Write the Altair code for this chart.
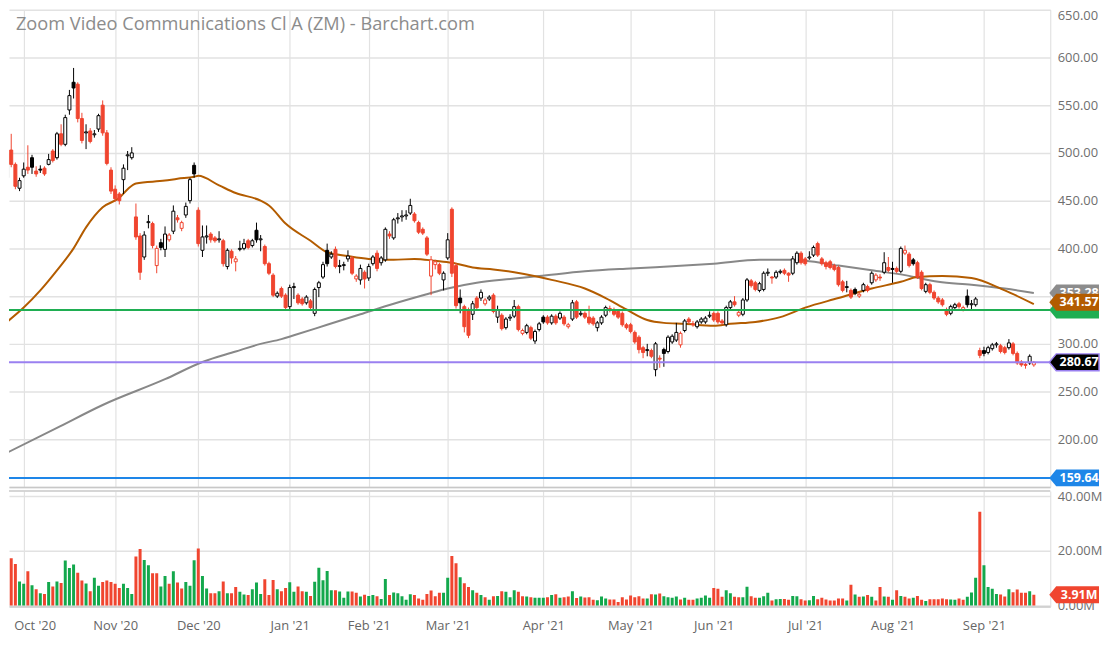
import altair as alt
import numpy as np
import pandas as pd

TITLE = "Zoom Video Communications Cl A (ZM) - Barchart.com"
FIRST_DAY = "2020-09-25"
LAST_DAY = "2021-09-20"
HOLIDAYS = ["2020-11-26", "2020-12-25", "2021-01-01", "2021-01-18", "2021-02-15",
            "2021-04-02", "2021-05-31", "2021-07-05", "2021-09-06"]

OPEN = [474, 503, 488, 463, 476, 485, 495, 481, 483, 484,
        488, 502, 495, 520, 509, 545, 574, 572, 536, 521,
        523, 519, 525, 550, 521, 482, 462, 457, 472, 497,
        495, 433, 413, 391, 427, 426, 382, 406, 399, 409,
        418, 432, 421, 435, 450, 487, 440, 398, 412, 415,
        411, 409, 408, 381, 397, 386, 399, 400, 408, 403,
        419, 409, 402, 384, 372, 350, 358, 351, 339, 359,
        351, 347, 343, 345, 332, 359, 370, 398, 391, 399,
        381, 382, 389, 390, 368, 367, 375, 369, 384, 395,
        385, 388, 415, 411, 431, 433, 434, 437, 436, 427,
        420, 411, 371, 383, 383, 367, 390, 441, 382, 348,
        339, 336, 331, 348, 348, 342, 347, 351, 328, 330,
        317, 327, 329, 339, 311, 312, 317, 303, 315, 328,
        328, 322, 329, 327, 328, 318, 326, 344, 331, 332,
        328, 327, 317, 322, 330, 337, 336, 334, 332, 320,
        320, 312, 307, 296, 293, 293, 273, 285, 294, 292,
        302, 304, 299, 314, 326, 321, 318, 323, 323, 329,
        332, 332, 324, 320, 338, 344, 330, 331, 346, 366,
        364, 356, 357, 374, 370, 370, 375, 377, 374, 374,
        385, 395, 389, 390, 393, 405, 389, 385, 386, 382,
        380, 365, 359, 356, 357, 350, 356, 360, 364, 367,
        370, 375, 380, 379, 379, 376, 395, 394, 388, 385,
        375, 355, 362, 354, 348, 346, 336, 332, 338, 342,
        336, 350, 341, 341, 293, 293, 291, 295, 299, 298,
        296, 296, 300, 290, 281, 278.5, 280, 278]
HIGH = [502, 520, 490, 474, 490, 508, 498, 486, 487, 486,
        499, 504, 522, 530, 540, 566, 589, 574, 542, 530,
        526, 524, 541, 555, 524, 485, 466, 459, 488, 502,
        506, 447, 416, 418, 435, 428, 403, 410, 423, 416,
        445, 435, 429, 448, 474, 490, 443, 424, 424, 417,
        413, 418, 410, 400, 399, 392, 408, 410, 410, 410,
        427, 414, 404, 386, 374, 355, 360, 353, 362, 364,
        353, 349, 351, 347, 359, 366, 386, 405, 397, 402,
        388, 386, 398, 392, 373, 383, 377, 384, 393, 398,
        392, 422, 418, 432, 437, 440, 440, 452, 438, 429,
        422, 413, 392, 388, 385, 376, 416, 443, 385, 357,
        341, 338, 345, 350, 357, 348, 351, 353, 340, 332,
        328, 331, 346, 341, 316, 321, 319, 315, 323, 330,
        330, 331, 331, 334, 330, 322, 346, 346, 335, 334,
        340, 329, 324, 330, 340, 340, 338, 336, 334, 322,
        322, 314, 309, 298, 300, 295, 302, 288, 296, 309,
        310, 322, 313, 326, 328, 324, 325, 328, 329, 334,
        334, 334, 326, 340, 346, 350, 335, 348, 369, 368,
        366, 365, 376, 379, 371, 377, 378, 379, 375, 392,
        397, 397, 391, 397, 403, 407, 391, 387, 388, 384,
        382, 367, 366, 358, 359, 355, 364, 362, 376, 374,
        373, 396, 391, 386, 381, 402, 403, 396, 390, 387,
        377, 364, 364, 356, 350, 348, 338, 341, 343, 344,
        340, 357, 346, 349, 296, 297, 298, 301, 302, 300,
        298, 305, 302, 292, 283, 280, 289, 282]
LOW = [470, 485, 462, 460, 474, 478, 478, 475, 479, 476,
       487, 490, 493, 507, 507, 540, 557, 532, 510, 504,
       510, 516, 522, 518, 487, 457, 449, 446, 457, 482,
       493, 409, 367, 388, 421, 400, 374, 398, 391, 407,
       415, 427, 418, 432, 447, 474, 402, 391, 405, 406,
       406, 406, 381, 378, 384, 376, 397, 398, 399, 401,
       406, 397, 382, 372, 349, 348, 348, 336, 336, 347,
       341, 340, 341, 335, 329, 349, 368, 381, 389, 379,
       374, 377, 386, 372, 365, 362, 358, 366, 382, 376,
       382, 386, 410, 409, 426, 428, 430, 435, 427, 415,
       414, 392, 351, 378, 372, 356, 388, 370, 337, 332,
       312, 306, 325, 335, 345, 340, 345, 332, 322, 314,
       315, 324, 327, 313, 309, 310, 304, 300, 313, 321,
       320, 320, 320, 325, 319, 316, 324, 326, 329, 326,
       320, 319, 313, 320, 328, 333, 329, 326, 318, 315,
       311, 300, 290, 285, 287, 285, 266, 275, 276, 290,
       300, 302, 296, 312, 321, 318, 316, 321, 321, 327,
       323, 321, 320, 318, 336, 339, 328, 329, 344, 359,
       355, 354, 355, 371, 363, 368, 373, 372, 365, 372,
       383, 383, 382, 388, 391, 391, 382, 378, 378, 376,
       360, 354, 354, 347, 351, 348, 354, 354, 362, 365,
       366, 373, 375, 364, 374, 374, 393, 380, 382, 368,
       356, 353, 352, 346, 342, 339, 329, 330, 336, 337,
       334, 338, 336, 339, 285, 287, 289, 293, 296, 290,
       289, 294, 288, 278, 276, 274, 278, 276]
CLOSE = [499, 488, 465, 471, 483, 482, 485, 478, 482, 478,
         493, 492, 520, 509, 537, 560, 568, 536, 513, 522,
         512, 520, 539, 521, 489, 460, 452, 450, 484, 498,
         500, 412, 375, 414, 428, 403, 400, 401, 415, 414,
         439, 430, 427, 444, 472, 478, 405, 412, 413, 409,
         408, 410, 384, 398, 390, 389, 400, 405, 401, 408,
         409, 410, 384, 374, 351, 353, 350, 338, 359, 360,
         343, 342, 349, 338, 357, 364, 383, 384, 394, 381,
         382, 383, 392, 374, 371, 379, 368, 381, 391, 379,
         390, 420, 413, 430, 432, 434, 435, 445, 429, 417,
         416, 394, 388, 386, 374, 374, 409, 374, 340, 343,
         318, 309, 342, 338, 354, 346, 349, 334, 336, 316,
         326, 328, 339, 315, 314, 319, 306, 313, 321, 323,
         322, 329, 322, 332, 321, 320, 343, 328, 332, 328,
         322, 321, 322, 328, 338, 336, 331, 328, 320, 317,
         313, 302, 294, 291, 294, 287, 300, 284, 290, 307,
         308, 312, 311, 324, 323, 320, 323, 326, 327, 330,
         325, 323, 322, 338, 344, 341, 333, 346, 367, 361,
         357, 363, 374, 375, 369, 375, 376, 374, 372, 389,
         395, 385, 384, 391, 401, 393, 384, 381, 380, 378,
         362, 356, 360, 349, 353, 352, 362, 356, 374, 372,
         369, 385, 377, 378, 376, 400, 398, 382, 384, 370,
         358, 362, 354, 348, 344, 341, 331, 339, 341, 339,
         338, 341, 342, 347, 288, 290, 296, 299, 300, 292,
         291, 301, 290, 280, 278, 277.5, 287, 280.67]
VOLUME_M = [12.7, 17.3, 15.2, 8.8, 7.9, 12.5, 7.4, 5.9, 4.5, 4.2,
            8.6, 6.9, 8.8, 8.2, 16.4, 13.7, 15.0, 12.0, 9.1, 8.0,
            5.2, 10.1, 7.2, 8.6, 9.1, 8.6, 7.9, 6.4, 7.9, 6.4,
            4.2, 17.9, 20.6, 16.6, 14.7, 11.8, 11.8, 6.9, 10.8, 7.9,
            12.5, 8.4, 6.2, 8.6, 7.2, 16.5, 20.8, 10.8, 6.2, 4.5,
            4.5, 5.2, 8.8, 4.5, 4.5, 6.7, 5.0, 4.0, 3.8, 5.9,
            8.4, 4.2, 9.6, 3.8, 9.3, 5.9, 5.2, 6.4, 8.5, 5.0,
            6.9, 5.2, 5.0, 3.5, 8.7, 13.8, 9.2, 12.6, 5.6, 5.6,
            5.1, 2.8, 5.1, 5.1, 4.6, 3.3, 3.9, 3.5, 3.8, 3.4,
            2.4, 9.7, 3.8, 4.7, 4.5, 3.4, 2.1, 4.1, 3.8, 2.5,
            2.1, 4.2, 5.5, 3.4, 4.6, 4.6, 10.1, 18.1, 15.4, 10.3,
            8.1, 6.7, 5.6, 4.6, 3.8, 3.0, 2.1, 3.4, 3.5, 5.2,
            5.0, 3.0, 5.6, 5.0, 3.4, 3.3, 3.0, 2.8, 2.8, 2.8,
            3.0, 3.8, 4.1, 2.8, 3.0, 3.3, 5.2, 2.7, 3.3, 2.9,
            3.0, 2.1, 1.9, 3.3, 2.5, 2.2, 2.2, 1.3, 3.0, 2.2,
            3.6, 3.0, 3.4, 2.5, 2.5, 4.1, 4.0, 4.4, 3.4, 3.0,
            2.8, 3.3, 2.2, 2.8, 2.1, 2.1, 2.5, 2.8, 3.6, 2.8,
            6.4, 6.1, 3.2, 5.6, 4.5, 3.2, 3.0, 3.0, 6.8, 3.4,
            2.8, 2.8, 3.4, 4.6, 1.8, 2.3, 2.4, 2.4, 2.1, 3.5,
            3.4, 2.3, 1.8, 1.9, 3.5, 2.3, 2.8, 2.2, 1.8, 1.8,
            2.5, 2.5, 1.8, 7.6, 4.0, 3.2, 3.3, 3.8, 3.2, 1.8,
            6.7, 3.3, 3.2, 2.1, 5.6, 3.5, 3.2, 2.5, 2.8, 3.5,
            2.1, 1.6, 2.3, 2.3, 2.3, 2.5, 2.3, 2.2, 2.1, 2.5,
            2.1, 3.2, 4.7, 10.1, 34.3, 14.7, 6.7, 6.1, 4.2, 4.0,
            3.3, 5.9, 4.8, 5.8, 4.6, 4.6, 5.2, 3.91]

# moving averages (trading-day index, value)
MA50_DAY = [0, 4, 8, 12, 16, 19, 23, 27, 29, 31, 38, 41, 45, 46, 51, 55, 61, 63, 67, 73,
            77, 82, 87, 93, 98, 103, 107, 112, 117, 122, 128, 131, 139, 144, 149, 154, 158,
            163, 170, 174, 180, 186, 192, 200, 208, 215, 219, 225, 232, 240, 247]
MA50_VAL = [323, 338, 356, 377, 400, 422, 443, 453, 462, 468, 471, 473, 475, 476, 466, 458,
            450, 445, 426, 408, 396, 392, 389, 388, 389, 387, 385, 380, 378, 375, 370, 367,
            358, 348, 336, 325, 322, 321, 319, 321, 323, 328, 338, 348, 358, 365, 370, 371,
            369, 356, 341.57]
MA200_DAY = [0, 12, 23, 38, 47, 55, 61, 66, 69, 77, 85, 93, 101, 106, 113, 121, 128, 139,
             150, 163, 170, 181, 189, 192, 200, 208, 216, 224, 232, 240, 247]
MA200_VAL = [186, 212, 236, 263, 281, 292, 300, 305, 309, 320, 331, 342, 352, 358, 364, 368,
             371, 376, 379, 382, 384, 388, 388, 387, 382, 377, 372, 365, 362, 358, 353.28]

SUPPORT_LEVEL = 335.5
LAST_PRICE = 280.67
LOW_LEVEL = 159.64
MA50_LAST = 341.57
MA200_LAST = 353.28
LAST_VOLUME = 3.91

# ---------------------------------------------------------------- data frames
dates = [d for d in pd.bdate_range(FIRST_DAY, LAST_DAY) if d.strftime("%Y-%m-%d") not in HOLIDAYS]
n = len(OPEN)
df = pd.DataFrame({"i": np.arange(n), "open": OPEN, "high": HIGH, "low": LOW,
                   "close": CLOSE, "vol": VOLUME_M})
prev = df["close"].shift(1).fillna(df["open"])
df["dir"] = np.where(df["close"] >= prev, "up", "down")

ma50 = pd.DataFrame({"i": MA50_DAY, "v": MA50_VAL})
ma200 = pd.DataFrame({"i": MA200_DAY, "v": MA200_VAL})

month_pos = [k for k in range(1, len(dates)) if dates[k].month != dates[k - 1].month]
month_lab = [dates[k].strftime("%b '%y") for k in month_pos]
lab_arr = "[" + ",".join('"%s"' % m for m in month_lab) + "]"
pos_arr = "[" + ",".join(str(p) for p in month_pos) + "]"
x_label_expr = f"{lab_arr}[indexof({pos_arr}, datum.value)]"

# ---------------------------------------------------------------- styling
W, PH, VH = 1047, 480, 116
RED = "#f0452f"
BLACK = "#000000"
GREEN_V = "#13a84c"
ORANGE = "#b35c00"
GRAY_MA = "#888888"
GREEN_LINE = "#1fae52"
PURPLE = "#9a80f0"
BLUE = "#1e86e8"
GRID = "#e2e2e2"
TAG_X = 1071
TAG_PATH = "M -1 0 L -0.72 -0.34 L 1 -0.34 L 1 0.34 L -0.72 0.34 Z"

xs = alt.Scale(domain=[1.66, 249.76], nice=False, zero=False)
ys = alt.Scale(domain=[150, 650], nice=False, zero=False)
vs = alt.Scale(domain=[-0.36, 41.82], nice=False, zero=False)

xax_p = alt.Axis(values=month_pos, grid=True, gridColor=GRID, gridWidth=1.2, labels=False,
                 ticks=False, domain=True, domainColor="#c8c8c8", domainWidth=1.5, title=None)
yax_p = alt.Axis(orient="right", values=list(range(150, 651, 50)),
                 labelExpr="datum.value == 150 ? '' : format(datum.value, '.2f')",
                 grid=True, gridColor=GRID, gridWidth=1.5, ticks=False, domain=True,
                 domainColor="#dddddd", labelColor="#6e6e6e", labelFontSize=13,
                 labelPadding=7, labelFlush=True, title=None)
xax_v = alt.Axis(values=month_pos, labelExpr=x_label_expr, grid=True, gridColor=GRID,
                 gridWidth=1.2, ticks=False, domain=True, domainColor="#c8c8c8",
                 domainWidth=1.5, labelColor="#666666", labelFontSize=13, labelPadding=13,
                 labelFlush=15, labelFlushOffset=10, labelOverlap=False, title=None)
yax_v = alt.Axis(orient="right", values=[0, 20, 40],
                 labelExpr="format(datum.value, '.2f') + 'M'", grid=True, gridColor=GRID,
                 gridWidth=1.5, ticks=False, domain=True, domainColor="#dddddd",
                 labelColor="#6e6e6e", labelFontSize=13, labelPadding=7, title=None)

updown = lambda up, down: alt.condition("datum.dir == 'up'", alt.value(up), alt.value(down))
X = alt.X("i:Q", scale=xs, axis=xax_p)

base = alt.Chart(df)

ma200_line = alt.Chart(ma200).mark_line(color=GRAY_MA, strokeWidth=2, clip=True,
                                        interpolate="monotone").encode(
    x=X, y=alt.Y("v:Q", scale=ys, axis=yax_p))
ma50_line = alt.Chart(ma50).mark_line(color=ORANGE, strokeWidth=2, clip=True,
                                      interpolate="monotone").encode(
    x=X, y=alt.Y("v:Q", scale=ys, axis=yax_p))

wick = base.mark_rule(strokeWidth=1, clip=True).encode(
    x=X, y=alt.Y("low:Q", scale=ys, axis=yax_p), y2="high:Q", color=updown(BLACK, RED))

hollow = base.transform_filter("datum.close > datum.open").mark_bar(
    width=3, fill="#ffffff", strokeWidth=1, clip=True).encode(
    x=X, y=alt.Y("open:Q", scale=ys, axis=yax_p), y2="close:Q", stroke=updown(BLACK, RED))

filled = base.transform_filter("datum.close <= datum.open").mark_bar(
    width=3, strokeWidth=1, clip=True).encode(
    x=X, y=alt.Y("open:Q", scale=ys, axis=yax_p), y2="close:Q",
    fill=updown(BLACK, RED), stroke=updown(BLACK, RED))


def level(val, color):
    return alt.Chart(pd.DataFrame({"v": [val]})).mark_rule(color=color, strokeWidth=2).encode(
        y=alt.Y("v:Q", scale=ys, axis=yax_p))


def tag(val, text, color, scale, axis, yoff=0, stroke=None):
    d = pd.DataFrame({"v": [val], "t": [text]})
    kw = dict(shape=TAG_PATH, size=2500, filled=True, fill=color, opacity=1, yOffset=yoff)
    if stroke:
        kw.update(stroke=stroke, strokeWidth=1.5)
    else:
        kw.update(strokeWidth=0)
    p = alt.Chart(d).mark_point(**kw).encode(
        x=alt.value(TAG_X), y=alt.Y("v:Q", scale=scale, axis=axis))
    t = alt.Chart(d).mark_text(color="white", fontWeight="bold", fontSize=12.5, align="center",
                               baseline="middle", yOffset=yoff).encode(
        x=alt.value(TAG_X + 5), y=alt.Y("v:Q", scale=scale, axis=axis), text="t:N")
    return [p, t]


title = alt.Chart(pd.DataFrame({"t": [TITLE]})).mark_text(
    align="left", baseline="alphabetic", fontSize=18.3, color="#8c8c8c").encode(
    x=alt.value(7), y=alt.value(20), text="t:N")

price_layers = [ma200_line, ma50_line, wick, hollow, filled,
                level(SUPPORT_LEVEL, GREEN_LINE), level(LAST_PRICE, PURPLE),
                level(LOW_LEVEL, BLUE), title]
price_layers += tag(SUPPORT_LEVEL, "", GREEN_LINE, ys, yax_p)
price_layers += tag(MA200_LAST, f"{MA200_LAST:.2f}", "#8c8c8c", ys, yax_p)
price_layers += tag(MA50_LAST, f"{MA50_LAST:.2f}", ORANGE, ys, yax_p, yoff=-2)
price_layers += tag(LAST_PRICE, f"{LAST_PRICE:.2f}", BLACK, ys, yax_p, stroke=PURPLE)
price_layers += tag(LOW_LEVEL, f"{LOW_LEVEL:.2f}", BLUE, ys, yax_p)

price = alt.layer(*price_layers).properties(width=W, height=PH)

vbars = base.mark_bar(width=3, clip=True).encode(
    x=alt.X("i:Q", scale=xs, axis=xax_v), y=alt.Y("vol:Q", scale=vs, axis=yax_v),
    y2=alt.datum(0), color=updown(GREEN_V, RED))
toprule = alt.Chart(pd.DataFrame({"a": [0]})).mark_rule(color="#c8c8c8", strokeWidth=1.5).encode(
    x=alt.value(0), x2=alt.value(W), y=alt.value(0))

vol_layers = [vbars, toprule] + tag(LAST_VOLUME, f"{LAST_VOLUME:.2f}M", RED, vs, yax_v)
volume = alt.layer(*vol_layers).properties(width=W, height=VH)

chart = alt.vconcat(price, volume, spacing=4).properties(
    bounds="flush", padding=0).configure(font="Open Sans").configure_view(strokeWidth=0)

chart.save("out.html", embed_options={"renderer": "svg", "actions": False})
